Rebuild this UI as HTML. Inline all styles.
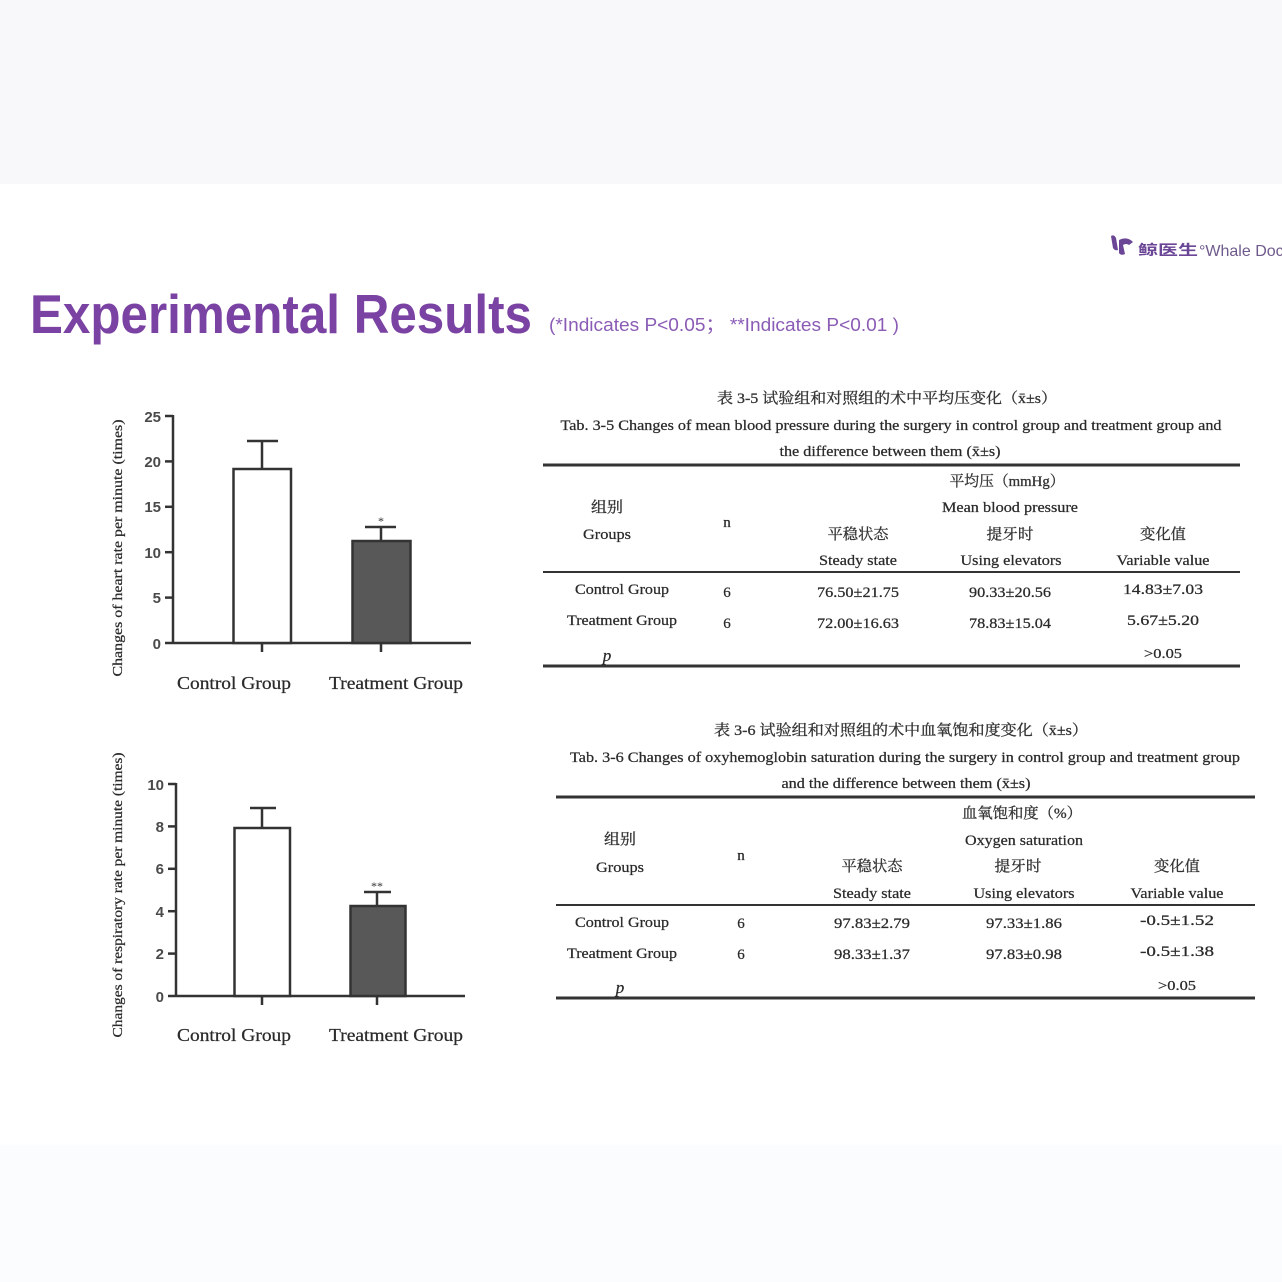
<!DOCTYPE html>
<html>
<head>
<meta charset="utf-8">
<style>
html,body{margin:0;padding:0;background:#fff;}
body{width:1282px;height:1282px;overflow:hidden;}
svg{display:block;}
.ser{font-family:"Liberation Serif","Noto Serif CJK SC",serif;fill:#2a2a2a;stroke:#2a2a2a;stroke-width:0.25;}
.cjk{font-family:"Liberation Serif","Noto Serif CJK SC",serif;fill:#333;stroke:#333;stroke-width:0.3;}
.tk{font-family:"Liberation Sans",sans-serif;font-weight:bold;fill:#4a4a4a;font-size:15px;}
</style>
</head>
<body>
<svg width="1282" height="1282" viewBox="0 0 1282 1282" xmlns="http://www.w3.org/2000/svg">
  <!-- backgrounds -->
  <rect x="0" y="0" width="1282" height="1282" fill="#ffffff"/>
  <rect x="0" y="0" width="1282" height="184" fill="#f8f8fa"/>
  <rect x="0" y="1145" width="1282" height="137" fill="#fbfcfe"/>

  <!-- logo -->
  <g fill="#6b4596">
    <path d="M1111 236 q3 -2 5 2 l2 12 q-3 1 -5 -2 z"/>
    <path d="M1119 240 q8 -4 14 2 l-4 3 q-3 -2 -6 0 l2 9 q-4 2 -6 -1 z"/>
  </g>
  <text x="1138" y="255" font-family="Liberation Sans, Noto Sans CJK SC, sans-serif" font-size="14" font-weight="bold" fill="#6b4596" textLength="60" lengthAdjust="spacingAndGlyphs">鲸医生</text>
  <text x="1199" y="256" font-family="Liberation Sans, sans-serif" font-size="16" fill="#6f5a8c">°Whale Doc</text>

  <!-- title -->
  <text x="30" y="333" font-family="Liberation Sans, sans-serif" font-size="55" font-weight="bold" fill="#7a42a2" textLength="502" lengthAdjust="spacingAndGlyphs">Experimental Results</text>
  <text x="549" y="331" font-family="Liberation Sans, Noto Sans CJK SC, sans-serif" font-size="18" fill="#8a5cb5" textLength="350" lengthAdjust="spacingAndGlyphs">(*Indicates P&lt;0.05；  **Indicates P&lt;0.01 )</text>

  <!-- ================= Chart 1 ================= -->
  <g stroke="#333" stroke-width="2.5" fill="none">
    <line x1="173" y1="415" x2="173" y2="644"/>
    <line x1="165" y1="643" x2="471" y2="643"/>
    <line x1="165" y1="416" x2="173" y2="416"/>
    <line x1="165" y1="461.4" x2="173" y2="461.4"/>
    <line x1="165" y1="506.8" x2="173" y2="506.8"/>
    <line x1="165" y1="552.2" x2="173" y2="552.2"/>
    <line x1="165" y1="597.6" x2="173" y2="597.6"/>
    <line x1="262" y1="643" x2="262" y2="652"/>
    <line x1="381" y1="643" x2="381" y2="652"/>
    <rect x="233.5" y="469" width="57.5" height="174" fill="#ffffff"/>
    <line x1="262" y1="469" x2="262" y2="441"/>
    <line x1="247" y1="441" x2="278" y2="441"/>
    <rect x="352.5" y="541" width="58" height="102" fill="#585858"/>
    <line x1="381" y1="541" x2="381" y2="527"/>
    <line x1="365" y1="527" x2="396" y2="527"/>
  </g>
  <text x="381" y="525" text-anchor="middle" font-family="Liberation Serif, serif" font-size="12" fill="#333">*</text>
  <g class="tk" text-anchor="end">
    <text x="161" y="422">25</text>
    <text x="161" y="467">20</text>
    <text x="161" y="512">15</text>
    <text x="161" y="558">10</text>
    <text x="161" y="603">5</text>
    <text x="161" y="649">0</text>
  </g>
  <text class="ser" x="234" y="689" text-anchor="middle" font-size="18" textLength="114" lengthAdjust="spacingAndGlyphs">Control Group</text>
  <text class="ser" x="396" y="689" text-anchor="middle" font-size="18" textLength="134" lengthAdjust="spacingAndGlyphs">Treatment Group</text>
  <text class="ser" transform="translate(122,548) rotate(-90)" x="0" y="0" text-anchor="middle" font-size="14" textLength="257" lengthAdjust="spacingAndGlyphs">Changes of heart rate per minute  (times)</text>

  <!-- ================= Chart 2 ================= -->
  <g stroke="#333" stroke-width="2.5" fill="none">
    <line x1="176" y1="783" x2="176" y2="997"/>
    <line x1="168" y1="996" x2="465" y2="996"/>
    <line x1="168" y1="784" x2="176" y2="784"/>
    <line x1="168" y1="826.4" x2="176" y2="826.4"/>
    <line x1="168" y1="868.8" x2="176" y2="868.8"/>
    <line x1="168" y1="911.2" x2="176" y2="911.2"/>
    <line x1="168" y1="953.6" x2="176" y2="953.6"/>
    <line x1="262" y1="996" x2="262" y2="1005"/>
    <line x1="377" y1="996" x2="377" y2="1005"/>
    <rect x="234.5" y="828" width="55.5" height="168" fill="#ffffff"/>
    <line x1="262" y1="828" x2="262" y2="808"/>
    <line x1="250" y1="808" x2="276" y2="808"/>
    <rect x="350.5" y="906" width="55" height="90" fill="#585858"/>
    <line x1="377" y1="906" x2="377" y2="892"/>
    <line x1="364" y1="892" x2="391" y2="892"/>
  </g>
  <text x="377" y="890" text-anchor="middle" font-family="Liberation Serif, serif" font-size="12" fill="#333">**</text>
  <g class="tk" text-anchor="end">
    <text x="164" y="790">10</text>
    <text x="164" y="832">8</text>
    <text x="164" y="874">6</text>
    <text x="164" y="917">4</text>
    <text x="164" y="959">2</text>
    <text x="164" y="1002">0</text>
  </g>
  <text class="ser" x="234" y="1041" text-anchor="middle" font-size="18" textLength="114" lengthAdjust="spacingAndGlyphs">Control Group</text>
  <text class="ser" x="396" y="1041" text-anchor="middle" font-size="18" textLength="134" lengthAdjust="spacingAndGlyphs">Treatment Group</text>
  <text class="ser" transform="translate(122,895) rotate(-90)" x="0" y="0" text-anchor="middle" font-size="14" textLength="285" lengthAdjust="spacingAndGlyphs">Changes of respiratory rate per minute (times)</text>

  <!-- ================= Table 1 ================= -->
  <text class="cjk" x="887" y="403" text-anchor="middle" font-size="15" textLength="340" lengthAdjust="spacingAndGlyphs">表 3-5  试验组和对照组的术中平均压变化（x̄±s）</text>
  <text class="ser" x="891" y="430" text-anchor="middle" font-size="15" textLength="661" lengthAdjust="spacingAndGlyphs">Tab. 3-5 Changes of mean blood pressure during the surgery in control group and treatment group and</text>
  <text class="ser" x="890" y="456" text-anchor="middle" font-size="15" textLength="221" lengthAdjust="spacingAndGlyphs">the difference between them (x̄±s)</text>
  <line x1="543" y1="465" x2="1240" y2="465" stroke="#333" stroke-width="3"/>
  <text class="cjk" x="1007" y="486" text-anchor="middle" font-size="15" textLength="115" lengthAdjust="spacingAndGlyphs">平均压（mmHg）</text>
  <text class="cjk" x="607" y="512" text-anchor="middle" font-size="15" textLength="32" lengthAdjust="spacingAndGlyphs">组别</text>
  <text class="ser" x="1010" y="512" text-anchor="middle" font-size="15" textLength="136" lengthAdjust="spacingAndGlyphs">Mean blood pressure</text>
  <text class="ser" x="607" y="539" text-anchor="middle" font-size="15" textLength="48" lengthAdjust="spacingAndGlyphs">Groups</text>
  <text class="ser" x="727" y="527" text-anchor="middle" font-size="15">n</text>
  <text class="cjk" x="858" y="539" text-anchor="middle" font-size="15" textLength="61" lengthAdjust="spacingAndGlyphs">平稳状态</text>
  <text class="cjk" x="1010" y="539" text-anchor="middle" font-size="15" textLength="47" lengthAdjust="spacingAndGlyphs">提牙时</text>
  <text class="cjk" x="1163" y="539" text-anchor="middle" font-size="15" textLength="46" lengthAdjust="spacingAndGlyphs">变化值</text>
  <text class="ser" x="858" y="565" text-anchor="middle" font-size="15" textLength="78" lengthAdjust="spacingAndGlyphs">Steady state</text>
  <text class="ser" x="1011" y="565" text-anchor="middle" font-size="15" textLength="101" lengthAdjust="spacingAndGlyphs">Using elevators</text>
  <text class="ser" x="1163" y="565" text-anchor="middle" font-size="15" textLength="93" lengthAdjust="spacingAndGlyphs">Variable value</text>
  <line x1="543" y1="572" x2="1240" y2="572" stroke="#333" stroke-width="2"/>
  <text class="ser" x="622" y="594" text-anchor="middle" font-size="15" textLength="94" lengthAdjust="spacingAndGlyphs">Control Group</text>
  <text class="ser" x="727" y="597" text-anchor="middle" font-size="15">6</text>
  <text class="ser" x="858" y="597" text-anchor="middle" font-size="15" textLength="82" lengthAdjust="spacingAndGlyphs">76.50±21.75</text>
  <text class="ser" x="1010" y="597" text-anchor="middle" font-size="15" textLength="82" lengthAdjust="spacingAndGlyphs">90.33±20.56</text>
  <text class="ser" x="1163" y="594" text-anchor="middle" font-size="15" textLength="80" lengthAdjust="spacingAndGlyphs">14.83±7.03</text>
  <text class="ser" x="622" y="625" text-anchor="middle" font-size="15" textLength="110" lengthAdjust="spacingAndGlyphs">Treatment Group</text>
  <text class="ser" x="727" y="628" text-anchor="middle" font-size="15">6</text>
  <text class="ser" x="858" y="628" text-anchor="middle" font-size="15" textLength="82" lengthAdjust="spacingAndGlyphs">72.00±16.63</text>
  <text class="ser" x="1010" y="628" text-anchor="middle" font-size="15" textLength="82" lengthAdjust="spacingAndGlyphs">78.83±15.04</text>
  <text class="ser" x="1163" y="625" text-anchor="middle" font-size="15" textLength="72" lengthAdjust="spacingAndGlyphs">5.67±5.20</text>
  <text class="ser" x="607" y="661" text-anchor="middle" font-size="17" font-style="italic">p</text>
  <text class="ser" x="1163" y="658" text-anchor="middle" font-size="14" textLength="38" lengthAdjust="spacingAndGlyphs">&gt;0.05</text>
  <line x1="543" y1="666" x2="1240" y2="666" stroke="#333" stroke-width="3"/>

  <!-- ================= Table 2 ================= -->
  <text class="cjk" x="901" y="735" text-anchor="middle" font-size="15" textLength="374" lengthAdjust="spacingAndGlyphs">表 3-6  试验组和对照组的术中血氧饱和度变化（x̄±s）</text>
  <text class="ser" x="905" y="762" text-anchor="middle" font-size="15" textLength="670" lengthAdjust="spacingAndGlyphs">Tab. 3-6 Changes of oxyhemoglobin saturation during the surgery in control group and treatment group</text>
  <text class="ser" x="906" y="788" text-anchor="middle" font-size="15" textLength="249" lengthAdjust="spacingAndGlyphs">and the difference between them (x̄±s)</text>
  <line x1="556" y1="797" x2="1255" y2="797" stroke="#333" stroke-width="3"/>
  <text class="cjk" x="1022" y="818" text-anchor="middle" font-size="15" textLength="120" lengthAdjust="spacingAndGlyphs">血氧饱和度（%）</text>
  <text class="cjk" x="620" y="844" text-anchor="middle" font-size="15" textLength="32" lengthAdjust="spacingAndGlyphs">组别</text>
  <text class="ser" x="1024" y="845" text-anchor="middle" font-size="15" textLength="118" lengthAdjust="spacingAndGlyphs">Oxygen saturation</text>
  <text class="ser" x="620" y="872" text-anchor="middle" font-size="15" textLength="48" lengthAdjust="spacingAndGlyphs">Groups</text>
  <text class="ser" x="741" y="860" text-anchor="middle" font-size="15">n</text>
  <text class="cjk" x="872" y="871" text-anchor="middle" font-size="15" textLength="61" lengthAdjust="spacingAndGlyphs">平稳状态</text>
  <text class="cjk" x="1018" y="871" text-anchor="middle" font-size="15" textLength="47" lengthAdjust="spacingAndGlyphs">提牙时</text>
  <text class="cjk" x="1177" y="871" text-anchor="middle" font-size="15" textLength="46" lengthAdjust="spacingAndGlyphs">变化值</text>
  <text class="ser" x="872" y="898" text-anchor="middle" font-size="15" textLength="78" lengthAdjust="spacingAndGlyphs">Steady state</text>
  <text class="ser" x="1024" y="898" text-anchor="middle" font-size="15" textLength="101" lengthAdjust="spacingAndGlyphs">Using elevators</text>
  <text class="ser" x="1177" y="898" text-anchor="middle" font-size="15" textLength="93" lengthAdjust="spacingAndGlyphs">Variable value</text>
  <line x1="556" y1="905" x2="1255" y2="905" stroke="#333" stroke-width="2"/>
  <text class="ser" x="622" y="927" text-anchor="middle" font-size="15" textLength="94" lengthAdjust="spacingAndGlyphs">Control Group</text>
  <text class="ser" x="741" y="928" text-anchor="middle" font-size="15">6</text>
  <text class="ser" x="872" y="928" text-anchor="middle" font-size="15" textLength="76" lengthAdjust="spacingAndGlyphs">97.83±2.79</text>
  <text class="ser" x="1024" y="928" text-anchor="middle" font-size="15" textLength="76" lengthAdjust="spacingAndGlyphs">97.33±1.86</text>
  <text class="ser" x="1177" y="925" text-anchor="middle" font-size="15" textLength="74" lengthAdjust="spacingAndGlyphs">-0.5±1.52</text>
  <text class="ser" x="622" y="958" text-anchor="middle" font-size="15" textLength="110" lengthAdjust="spacingAndGlyphs">Treatment Group</text>
  <text class="ser" x="741" y="959" text-anchor="middle" font-size="15">6</text>
  <text class="ser" x="872" y="959" text-anchor="middle" font-size="15" textLength="76" lengthAdjust="spacingAndGlyphs">98.33±1.37</text>
  <text class="ser" x="1024" y="959" text-anchor="middle" font-size="15" textLength="76" lengthAdjust="spacingAndGlyphs">97.83±0.98</text>
  <text class="ser" x="1177" y="956" text-anchor="middle" font-size="15" textLength="74" lengthAdjust="spacingAndGlyphs">-0.5±1.38</text>
  <text class="ser" x="620" y="993" text-anchor="middle" font-size="17" font-style="italic">p</text>
  <text class="ser" x="1177" y="990" text-anchor="middle" font-size="14" textLength="38" lengthAdjust="spacingAndGlyphs">&gt;0.05</text>
  <line x1="556" y1="998" x2="1255" y2="998" stroke="#333" stroke-width="3"/>
</svg>
</body>
</html>
